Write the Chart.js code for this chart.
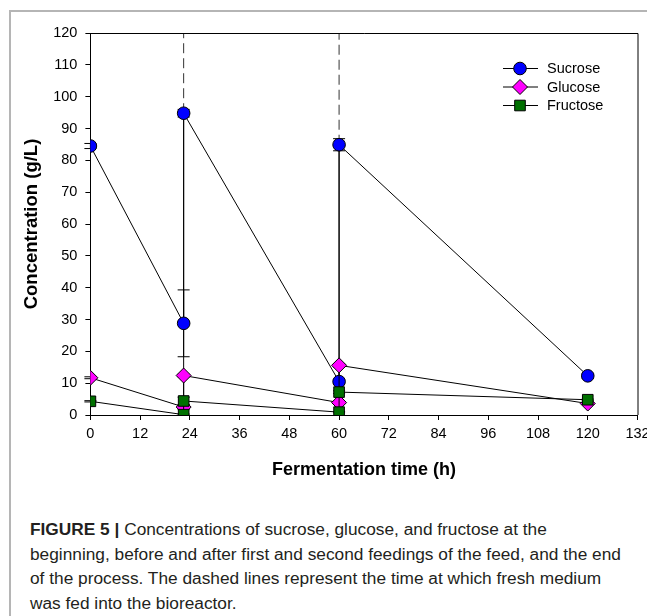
<!DOCTYPE html>
<html><head><meta charset="utf-8">
<script src="https://cdn.jsdelivr.net/npm/chart.js@4"></script>
<style>
html,body{margin:0;padding:0;background:#fff;overflow:hidden;width:647px;height:616px;position:relative;}
#frame{position:absolute;left:9px;top:10px;width:700px;height:700px;border-left:2px solid #b5b5b5;border-top:2px solid #b5b5b5;}
#wrap{position:absolute;left:0;top:0;width:660px;height:500px;}
#cap{position:absolute;left:30px;top:517px;font-family:"Liberation Sans",Arial,sans-serif;font-size:17.3px;line-height:24.7px;color:#231f20;white-space:nowrap;}
#cap b{font-weight:bold;}
</style></head>
<body>
<div id="frame"></div>
<div id="wrap"><canvas id="c" width="660" height="500"></canvas></div>
<div id="cap">
<div><b>FIGURE 5 |</b> Concentrations of sucrose, glucose, and fructose at the</div>
<div>beginning, before and after first and second feedings of the feed, and the end</div>
<div>of the process. The dashed lines represent the time at which fresh medium</div>
<div>was fed into the bioreactor.</div>
</div>
<script>
const times = [0, 22.5, 22.5, 60, 60, 120];
const sucrose = [84.5, 28.8, 94.8, 10.5, 84.9, 12.3];
const sucroseErr = [0.8, 10.5, 1.2, 0.6, 1.9, 0.8];
const glucose = [11.7, 2.5, 12.4, 3.9, 15.6, 3.6];
const glucoseErr = [0.3, 0.8, 0.4, 0.3, 0.5, 0.3];
const fructose = [4.3, 0.1, 4.4, 0.9, 7.2, 4.8];
const fructoseErr = [0.2, 0.2, 1.2, 0.2, 0.4, 0.2];
const feedTimes = [22.5, 60];
const feedTops = [94.8, 84.9];
const xTicks = [0, 12, 24, 36, 48, 60, 72, 84, 96, 108, 120, 132];
const yTicks = [0, 10, 20, 30, 40, 50, 60, 70, 80, 90, 100, 110, 120];
const seriesNames = ['Sucrose', 'Glucose', 'Fructose'];

Chart.defaults.font.family = '"Liberation Sans", Arial, sans-serif';
Chart.defaults.color = '#000';

const pts = arr => arr.map((v, i) => ({x: times[i], y: v}));

const feedSets = feedTimes.map((t, i) => ({
  label: '', isFeed: true,
  data: [{x: t, y: yTicks[0]}, {x: t, y: feedTops[i]}, {x: t, y: yTicks[yTicks.length - 1]}],
  borderColor: '#000', borderWidth: 1, pointRadius: 0, order: 10,
  segment: {
    borderDash: c => c.p0DataIndex === 1 ? [10, 5] : undefined,
    borderColor: c => c.p0DataIndex === 1 ? '#333' : '#000'
  }
}));

const mk = (name, arr, err, color, style, r, order) => ({
  label: name, data: pts(arr), err: err,
  borderColor: '#000', borderWidth: 1,
  pointBackgroundColor: color, pointBorderColor: '#000', pointBorderWidth: 1,
  pointStyle: style, pointRadius: r, pointHoverRadius: r, order: order
});

const datasets = [
  mk(seriesNames[0], sucrose, sucroseErr, '#0000ff', 'circle', 6.3, 2),
  mk(seriesNames[1], glucose, glucoseErr, '#ff00ff', 'rectRot', 7.5, 1),
  mk(seriesNames[2], fructose, fructoseErr, '#007000', 'rect', 7.5, 0),
  ...feedSets
];

const errPlugin = {
  id: 'err',
  beforeDatasetsDraw(chart) {
    const ctx = chart.ctx, xs = chart.scales.x, ys = chart.scales.y;
    ctx.save();
    ctx.strokeStyle = '#000'; ctx.lineWidth = 1;
    chart.data.datasets.forEach(ds => {
      if (!ds.err) return;
      ds.data.forEach((p, i) => {
        const e = ds.err[i]; if (!e) return;
        const x = xs.getPixelForValue(p.x);
        const y1 = ys.getPixelForValue(p.y - e), y2 = ys.getPixelForValue(p.y + e);
        ctx.beginPath();
        ctx.moveTo(x, y1); ctx.lineTo(x, y2);
        ctx.moveTo(x - 6, y1); ctx.lineTo(x + 6, y1);
        ctx.moveTo(x - 6, y2); ctx.lineTo(x + 6, y2);
        ctx.stroke();
      });
    });
    ctx.restore();
  }
};

const boxPlugin = {
  id: 'box',
  afterDraw(chart) {
    const a = chart.chartArea, ctx = chart.ctx;
    ctx.save();
    ctx.strokeStyle = '#000'; ctx.lineWidth = 1;
    ctx.beginPath();
    ctx.moveTo(a.left, a.top + 0.5); ctx.lineTo(a.right + 0.5, a.top + 0.5); ctx.lineTo(a.right + 0.5, a.bottom);
    ctx.stroke();
    ctx.restore();
  }
};

const legendPlugin = {
  id: 'leg',
  afterDraw(chart) {
    const ctx = chart.ctx;
    ctx.save();
    const x0 = 503, x1 = 538, xm = 520, xt = 547;
    let y = 68;
    chart.data.datasets.forEach((ds, i) => {
      if (ds.isFeed) return;
      ctx.strokeStyle = '#000'; ctx.lineWidth = 1;
      ctx.beginPath(); ctx.moveTo(x0, y + 0.5); ctx.lineTo(x1, y + 0.5); ctx.stroke();
      ctx.fillStyle = ds.pointBackgroundColor; ctx.strokeStyle = '#000';
      Chart.helpers.drawPoint(ctx, {pointStyle: ds.pointStyle, radius: ds.pointRadius, borderWidth: 1}, xm, y + 0.5);
      ctx.fillStyle = '#000';
      ctx.font = '14.5px "Liberation Sans", Arial, sans-serif';
      ctx.textBaseline = 'middle'; ctx.textAlign = 'left';
      ctx.fillText(ds.label, xt, y + 1);
      y += 18.5;
    });
    ctx.restore();
  }
};

new Chart(document.getElementById('c'), {
  type: 'line',
  data: {datasets},
  plugins: [errPlugin, boxPlugin, legendPlugin],
  options: {
    responsive: false, animation: false,
    layout: {padding: {left: 0, right: 22.5, top: 33, bottom: 0}},
    plugins: {legend: {display: false}, tooltip: {enabled: false}},
    elements: {line: {tension: 0}},
    scales: {
      x: {
        type: 'linear', min: xTicks[0], max: xTicks[xTicks.length - 1],
        afterBuildTicks: s => { s.ticks = xTicks.map(v => ({value: v})); },
        afterFit: s => { s.height = 85; },
        grid: {display: true, drawOnChartArea: false, drawTicks: true, tickLength: 5, color: '#000'},
        border: {display: true, color: '#000', width: 1},
        ticks: {font: {size: 14.5}, padding: 5, maxRotation: 0, autoSkip: false},
        title: {display: true, text: 'Fermentation time (h)', font: {size: 18, weight: 'bold'}, padding: {top: 0, bottom: 19}}
      },
      y: {
        type: 'linear', min: yTicks[0], max: yTicks[yTicks.length - 1],
        afterBuildTicks: s => { s.ticks = yTicks.map(v => ({value: v})); },
        afterFit: s => { s.width = 90.4; },
        grid: {display: true, drawOnChartArea: false, drawTicks: true, tickLength: 5, color: '#000'},
        border: {display: true, color: '#000', width: 1},
        ticks: {font: {size: 14.5}, padding: 8, autoSkip: false},
        title: {display: true, text: 'Concentration (g/L)', font: {size: 18.5, weight: 'bold'}, padding: {top: 21, bottom: 0}}
      }
    }
  }
});
</script>
</body></html>
